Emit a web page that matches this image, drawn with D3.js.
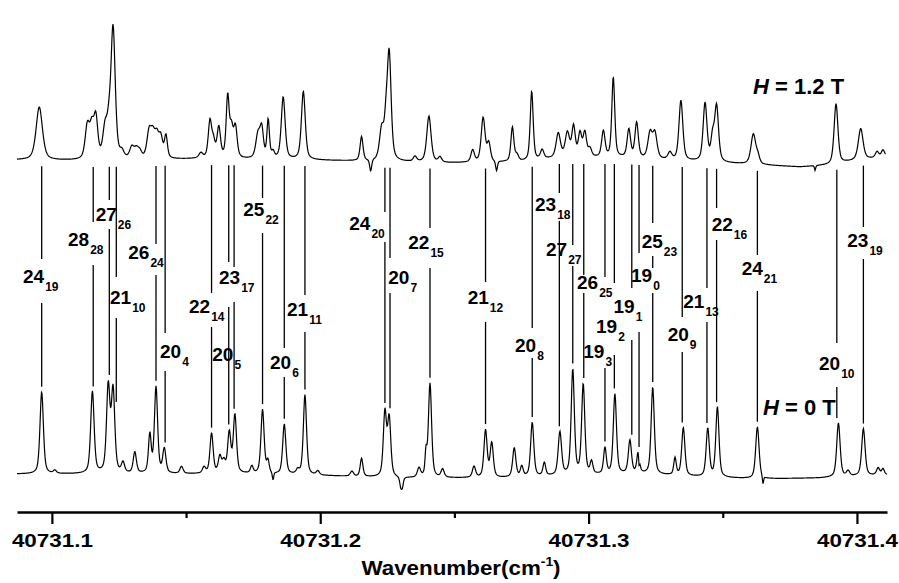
<!DOCTYPE html>
<html>
<head>
<meta charset="utf-8">
<script src="https://cdn.jsdelivr.net/npm/d3@7"></script>
<style>
  body { margin: 0; background: #fff; }
  svg { display: block; }
  text { font-family: "Liberation Sans", Arial, sans-serif; font-weight: bold; fill: #000; }
</style>
</head>
<body>
<script>
// peak lists: [wavenumber (cm-1), height (a.u.), fwhm (cm-1)]
const bottomPeaks = [
  [40731.0962, 0.82, 0.0015], [40731.1011, 0.03, 0.0014], [40731.1151, 0.82, 0.0015],
  [40731.1210, 0.86, 0.0015], [40731.1228, 0.82, 0.0015], [40731.1265, 0.10, 0.0014],
  [40731.1309, 0.21, 0.0014], [40731.1365, 0.38, 0.0012], [40731.1388, 0.86, 0.0014],
  [40731.1419, 0.24, 0.0014], [40731.1483, 0.07, 0.0014], [40731.1567, 0.06, 0.0014],
  [40731.1595, 0.40, 0.0014], [40731.1626, 0.16, 0.0014], [40731.1641, 0.11, 0.0014],
  [40731.1661, 0.40, 0.0014], [40731.1682, 0.58, 0.0014], [40731.1745, 0.07, 0.0012],
  [40731.1785, 0.64, 0.0014], [40731.1805, 0.12, 0.0011], [40731.1824, -0.08, 0.0006],
  [40731.1866, 0.50, 0.0014], [40731.1916, 0.04, 0.0014], [40731.1943, 0.80, 0.0014],
  [40731.1991, 0.04, 0.0014], [40731.2118, 0.05, 0.0014], [40731.2154, 0.18, 0.0012],
  [40731.2241, 0.64, 0.0014], [40731.2257, 0.58, 0.0014], [40731.2300, -0.09, 0.0009],
  [40731.2306, -0.09, 0.0009], [40731.2368, 0.09, 0.0014], [40731.2394, 0.22, 0.0008],
  [40731.2409, 0.94, 0.0014], [40731.2456, 0.08, 0.0014], [40731.2573, 0.11, 0.0014],
  [40731.2616, 0.47, 0.0014], [40731.2639, 0.34, 0.0014], [40731.2723, 0.29, 0.0014],
  [40731.2751, 0.10, 0.0012], [40731.2790, 0.54, 0.0014], [40731.2835, 0.13, 0.0012],
  [40731.2893, 0.43, 0.0015], [40731.2941, 1.05, 0.0014], [40731.2980, 0.90, 0.0014],
  [40731.3011, 0.12, 0.0012], [40731.3061, 0.26, 0.0012], [40731.3098, 0.80, 0.0014],
  [40731.3154, 0.33, 0.0014], [40731.3185, 0.22, 0.0012], [40731.3188, -0.12, 0.0004],
  [40731.3239, 0.87, 0.0014], [40731.3322, 0.17, 0.0011], [40731.3353, 0.48, 0.0014],
  [40731.3444, 0.48, 0.0014], [40731.3480, 0.70, 0.0014], [40731.3629, 0.52, 0.0015],
  [40731.3650, -0.08, 0.0005], [40731.3931, 0.54, 0.0015], [40731.3967, 0.05, 0.0014],
  [40731.4024, 0.47, 0.0015], [40731.4079, 0.07, 0.0014], [40731.4097, 0.06, 0.0012]
];

const topPeaks = [
  [40731.0953, 0.53, 0.0028], [40731.1132, 0.32, 0.0019], [40731.1149, 0.30, 0.0019],
  [40731.1164, 0.38, 0.0017], [40731.1198, 0.28, 0.0019], [40731.1212, 0.25, 0.0017],
  [40731.1228, 1.30, 0.0019], [40731.1261, 0.06, 0.0017], [40731.1298, 0.11, 0.0019],
  [40731.1315, 0.09, 0.0019], [40731.1328, 0.06, 0.0017], [40731.1362, 0.25, 0.0019],
  [40731.1376, 0.21, 0.0019], [40731.1391, 0.21, 0.0019], [40731.1406, 0.19, 0.0017],
  [40731.1425, 0.22, 0.0013], [40731.1555, 0.05, 0.0017], [40731.1589, 0.36, 0.0015],
  [40731.1602, 0.15, 0.0015], [40731.1622, 0.30, 0.0015], [40731.1655, 0.60, 0.0013],
  [40731.1669, 0.28, 0.0015], [40731.1684, 0.30, 0.0015], [40731.1768, 0.24, 0.0019],
  [40731.1782, 0.28, 0.0015], [40731.1806, 0.38, 0.0011], [40731.1824, 0.06, 0.0013],
  [40731.1862, 0.62, 0.0017], [40731.1937, 0.68, 0.0017], [40731.2154, 0.24, 0.0013],
  [40731.2188, -0.12, 0.0009], [40731.2229, 0.30, 0.0019], [40731.2245, 0.30, 0.0015],
  [40731.2257, 1.05, 0.0017], [40731.2353, 0.05, 0.0015], [40731.2405, 0.46, 0.0019],
  [40731.2446, 0.05, 0.0015], [40731.2568, 0.12, 0.0015], [40731.2607, 0.44, 0.0017],
  [40731.2628, 0.18, 0.0015], [40731.2657, -0.10, 0.0008], [40731.2716, 0.34, 0.0013],
  [40731.2733, 0.06, 0.0015], [40731.2788, 0.69, 0.0013], [40731.2827, 0.09, 0.0015],
  [40731.2887, 0.24, 0.0019], [40731.2921, 0.24, 0.0019], [40731.2944, 0.30, 0.0015],
  [40731.2968, 0.23, 0.0015], [40731.2986, 0.24, 0.0015], [40731.3005, 0.08, 0.0015],
  [40731.3055, 0.26, 0.0015], [40731.3092, 0.80, 0.0013], [40731.3150, 0.28, 0.0015],
  [40731.3179, 0.35, 0.0015], [40731.3229, 0.25, 0.0019], [40731.3247, 0.25, 0.0019],
  [40731.3303, 0.07, 0.0017], [40731.3344, 0.60, 0.0017], [40731.3434, 0.58, 0.0017],
  [40731.3462, 0.22, 0.0015], [40731.3477, 0.55, 0.0017], [40731.3614, 0.30, 0.0021],
  [40731.3631, 0.07, 0.0015], [40731.3844, -0.05, 0.0005], [40731.3922, 0.60, 0.0017],
  [40731.4014, 0.31, 0.0021], [40731.4075, 0.06, 0.0015], [40731.4097, 0.07, 0.0015]
];

// baseline (offset) of each trace: [wavenumber, a.u.]
const bottomBase = [
  [40731.0870, 0.26], [40731.1738, 0.26], [40731.1924, 0.25], [40731.2297, 0.22],
  [40731.2670, 0.22], [40731.2893, 0.24], [40731.3191, 0.26], [40731.3415, 0.23],
  [40731.3639, 0.21], [40731.3862, 0.22], [40731.4011, 0.24], [40731.4112, 0.25]
];
const topBase = [
  [40731.0870, 3.40], [40731.1179, 3.39], [40731.1552, 3.41], [40731.1924, 3.40],
  [40731.2111, 3.39], [40731.2483, 3.37], [40731.2744, 3.38], [40731.2893, 3.42],
  [40731.3117, 3.42], [40731.3415, 3.38], [40731.3639, 3.35], [40731.3788, 3.33],
  [40731.3900, 3.35], [40731.4011, 3.40], [40731.4112, 3.43]
];

// assignments J_K linking the two traces
const lineWn = [
  40731.0962, 40731.1154, 40731.1214, 40731.1240, 40731.1388, 40731.1422, 40731.1595,
  40731.1659, 40731.1679, 40731.1785, 40731.1866, 40731.1943, 40731.2241, 40731.2260,
  40731.2409, 40731.2616, 40731.2790, 40731.2891, 40731.2941, 40731.2982, 40731.3061,
  40731.3096, 40731.3161, 40731.3188, 40731.3239, 40731.3349, 40731.3441, 40731.3477,
  40731.3629, 40731.3925, 40731.4024
];
const lineMain = ['24','28','27','21','26','20','22','20','23','25','20','21','24','20','22','21',
  '20','23','27','26','19','19','19','19','25','20','21','22','24','20','23'];
const lineSub = ['19','28','26','10','24','4','14','5','17','22','6','11','20','7','15','12',
  '8','18','27','25','3','2','1','0','23','9','13','16','21','10','19'];

const xTicks = [40731.1, 40731.2, 40731.3, 40731.4];
const xMinor = [40731.15, 40731.25, 40731.35];

// label placement (left, baseline) and gaps in each connector, in px
const labelPos = [[23,283],[68,246],[95.7,221],[110,304],[128.3,259],[160,358],[189,313],
  [212.3,361],[219,284],[243.3,216],[270,369],[287,316],[349.3,230],[388.3,284],[408.3,249],
  [467.7,304],[515,352],[535,211],[546,256],[577,289],[583.3,358],[596,333],[613.5,313],
  [631,282],[641.7,248],[667.7,341],[683.3,308],[711.7,231],[741.7,275],[819,370],[847.3,247]];
const lineGaps = [[[259,303]],[[222,265]],[[200,229]],[[277,318]],[[244,275]],[[333,371]],
  [[293,327]],[[262,307]],[[267,302]],[[198,233]],[[348,377]],[[295,332]],[[212,242]],
  [[258,293]],[[228,268]],[[282,322]],[[328,358]],[[193,221]],[[245,266]],[[275,293]],
  [[277,368]],[[283,355]],[[288,340]],[[253,332]],[[223,256],[268,293]],[[317,352]],
  [[288,322]],[[208,240]],[[255,291]],[[343,387]],[[227,259]]];

const width = 899, height = 583;

const x = d3.scaleLinear().domain([40731.087, 40731.4112]).range([17, 887]);
const y = d3.scaleLinear().domain([0, 5]).range([500, 0]);

const bottomBaseFn = d3.scaleLinear().domain(bottomBase.map(d => d[0])).range(bottomBase.map(d => d[1]));
const topBaseFn = d3.scaleLinear().domain(topBase.map(d => d[0])).range(topBase.map(d => d[1]));

// pseudo-Voigt line shape
function profile(peaks, v) {
  let s = 0;
  for (const [c, h, w] of peaks) {
    const t = (v - c) / (w / 2);
    s += h * (0.5 / (1 + t * t) + 0.5 * Math.exp(-Math.LN2 * t * t));
  }
  return s;
}

const grid = d3.range(0, 1741).map(i => x.invert(17 + i * 0.5));
const topTrace = grid.filter(v => x(v) <= 886).map(v => [v, topBaseFn(v) + profile(topPeaks, v)]);
const bottomTrace = grid.map(v => [v, bottomBaseFn(v) + profile(bottomPeaks, v)]);

const svg = d3.select('body').append('svg')
  .attr('width', width)
  .attr('height', height);

const line = d3.line().x(d => x(d[0])).y(d => y(d[1]));

svg.append('path').datum(topTrace)
  .attr('d', line).attr('fill', 'none').attr('stroke', '#000').attr('stroke-width', 1.2);
svg.append('path').datum(bottomTrace)
  .attr('d', line).attr('fill', 'none').attr('stroke', '#000').attr('stroke-width', 1.2);

// connectors
lineWn.forEach((wn, i) => {
  const xp = x(wn);
  const y0 = y(topBaseFn(wn)) + 6;
  let peakY = Infinity;
  for (let d = -2; d <= 2; d += 0.5) {
    const v = x.invert(xp + d);
    peakY = Math.min(peakY, y(bottomBaseFn(v) + profile(bottomPeaks, v)));
  }
  const y1 = peakY - 5;
  let cur = y0;
  const segs = [];
  lineGaps[i].forEach(([a, b]) => { segs.push([cur, a]); cur = b; });
  segs.push([cur, y1]);
  segs.filter(s => s[1] > s[0]).forEach(s => {
    svg.append('line')
      .attr('x1', xp).attr('x2', xp)
      .attr('y1', s[0]).attr('y2', s[1])
      .attr('stroke', '#000').attr('stroke-width', 1.3);
  });

  const t = svg.append('text')
    .attr('x', labelPos[i][0]).attr('y', labelPos[i][1])
    .style('font-size', '19px')
    .text(lineMain[i]);
  t.append('tspan').attr('dx', 1).attr('dy', 8).style('font-size', '12px').text(lineSub[i]);
});

// field labels
function fieldLabel(xp, yp, val) {
  const t = svg.append('text').attr('x', xp).attr('y', yp).style('font-size', '22px');
  t.append('tspan').style('font-style', 'italic').text('H');
  t.append('tspan').text(' = ' + val + ' T');
}
fieldLabel(753, 94, '1.2');
fieldLabel(763, 415, '0');

// axis
const axisY = 512;
const axis = svg.append('g')
  .attr('transform', `translate(0,${axisY})`)
  .call(d3.axisBottom(x).tickValues(xTicks).tickSize(12).tickSizeOuter(0)
    .tickPadding(10).tickFormat(d3.format('.1f')));
axis.select('.domain').attr('stroke', '#000').attr('stroke-width', 2.5);
axis.selectAll('.tick line').attr('stroke', '#000').attr('stroke-width', 2.2);
axis.selectAll('.tick text')
  .style('font-size', '19px')
  .attr('transform', 'scale(1.18,1)');

const minor = svg.append('g')
  .attr('transform', `translate(0,${axisY})`)
  .call(d3.axisBottom(x).tickValues(xMinor).tickSize(6).tickSizeOuter(0).tickFormat(''));
minor.select('.domain').remove();
minor.selectAll('.tick line').attr('stroke', '#000').attr('stroke-width', 2.2);

const title = svg.append('text')
  .attr('transform', 'translate(461,575) scale(1.065,1)')
  .attr('text-anchor', 'middle')
  .style('font-size', '21px');
title.append('tspan').text('Wavenumber(cm');
title.append('tspan').attr('dy', -9).style('font-size', '13px').text('-1');
title.append('tspan').attr('dy', 9).text(')');
</script>
</body>
</html>
